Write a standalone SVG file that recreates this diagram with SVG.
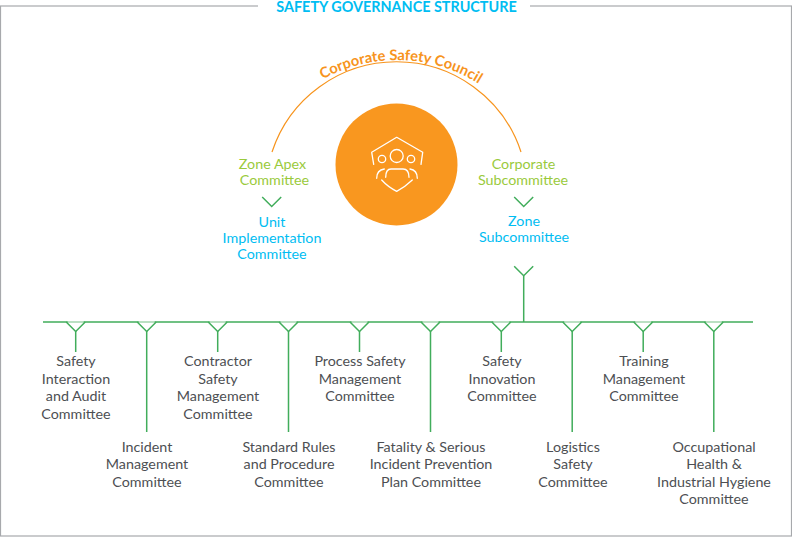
<svg xmlns="http://www.w3.org/2000/svg" width="792" height="537" viewBox="0 0 792 537">
<style>
text{font-family:"Lato","Liberation Sans",sans-serif;font-size:14.3px;text-anchor:middle}
.d{fill:#4d4f53}.g{fill:#9aca3c}.b{fill:#00bdf2}
.l{fill:none;stroke:#41ad5b;stroke-width:1.5}
.p{fill:none;stroke:#d3ead7;stroke-width:1.5}
.w{fill:none;stroke:#fff;stroke-width:1.3;stroke-linecap:round;stroke-linejoin:round}
</style>
<defs>
<path id="arc" d="M257 151.300A153 153 0 0 1 537 151.300"/>
<path id="v" d="M-9.500 0L0 9.500L9.500 0"/>
<g id="y"><path class="p" d="M-8 0H8"/><path class="l" d="M-9.500 0L0 9.500L9.500 0"/></g>
</defs>
<rect id="frame" x="0.500" y="6" width="791" height="530" fill="none" stroke="#a7a9ac" stroke-width="1.2"/>
<g id="title"><rect x="258" y="0" width="272" height="14" fill="#fff"/><text x="396.500" y="12" font-weight="700" style="font-size:14.400px" class="b">SAFETY GOVERNANCE STRUCTURE</text></g>
<g id="council"><path d="M272 152A131 131 0 0 1 521 152" fill="none" stroke="#f7941d" stroke-width="1.2"/>
<text style="font-size:14.700px" fill="#f7941d" font-weight="700"><textPath href="#arc" startOffset="51.200%">Corporate Safety Council</textPath></text></g>
<g id="hub"><circle cx="396.500" cy="164.500" r="61" fill="#f9971f"/>
<path class="w" d="M373.700 164.300L371.700 152.300L396.700 137.300L422.700 152.300L421 164.300"/>
<circle class="w" cx="396.700" cy="156" r="6.500"/><circle class="w" cx="382" cy="159" r="3.700"/><circle class="w" cx="411" cy="159" r="3.700"/>
<path class="w" d="M385.700 177.300Q385.700 169 391 169H403Q409 169 409 177.300M376.700 178.300Q376.700 170 384.300 169M417.300 178.300Q417.300 170 410 169M381.700 180Q388 187 396.700 191.300Q405 187 412.300 180"/></g>
<g id="zone-apex"><text class="g" x="272.500" y="169">Zone Apex</text><text class="g" x="274.500" y="185">Committee</text></g>
<g id="corporate-sub"><text class="g" x="523.500" y="169">Corporate</text><text class="g" x="523" y="185">Subcommittee</text></g>
<g id="unit"><text class="b" x="272" y="227">Unit</text><text class="b" x="272" y="243">Implementation</text><text class="b" x="272" y="259">Committee</text></g>
<g id="zone-sub"><text class="b" x="524" y="226">Zone</text><text class="b" x="524" y="242">Subcommittee</text></g>
<g id="connectors">
<path class="l" d="M43 322H753M523.700 276V322"/>
<use href="#v" class="l" x="271.700" y="197"/><use href="#v" class="l" x="523.700" y="197"/><use href="#v" class="l" x="523.700" y="266.200"/>
<use href="#y" x="75.700" y="322"/><use href="#y" x="146.700" y="322"/><use href="#y" x="217.700" y="322"/><use href="#y" x="288.500" y="322"/><use href="#y" x="359.500" y="322"/><use href="#y" x="430.500" y="322"/><use href="#y" x="501.300" y="322"/><use href="#y" x="572.200" y="322"/><use href="#y" x="643.200" y="322"/><use href="#y" x="713.800" y="322"/>
<path class="l" d="M75.700 331V352M146.700 331V432M217.700 331V352M288.500 331V432M359.500 331V352M430.500 331V432M501.300 331V352M572.200 331V432M643.200 331V352M713.800 331V432"/>
</g>
<g id="n1"><text class="d" x="76" y="366">Safety</text><text class="d" x="76" y="384">Interaction</text><text class="d" x="76" y="401">and Audit</text><text class="d" x="76" y="419">Committee</text></g>
<g id="n2"><text class="d" x="147" y="452">Incident</text><text class="d" x="147" y="469">Management</text><text class="d" x="147" y="487">Committee</text></g>
<g id="n3"><text class="d" x="218" y="366">Contractor</text><text class="d" x="218" y="384">Safety</text><text class="d" x="218" y="401">Management</text><text class="d" x="218" y="419">Committee</text></g>
<g id="n4"><text class="d" x="289" y="452">Standard Rules</text><text class="d" x="289" y="469">and Procedure</text><text class="d" x="289" y="487">Committee</text></g>
<g id="n5"><text class="d" x="360" y="366">Process Safety</text><text class="d" x="360" y="384">Management</text><text class="d" x="360" y="401">Committee</text></g>
<g id="n6"><text class="d" x="431" y="452">Fatality &amp; Serious</text><text class="d" x="431" y="469">Incident Prevention</text><text class="d" x="431" y="487">Plan Committee</text></g>
<g id="n7"><text class="d" x="502" y="366">Safety</text><text class="d" x="502" y="384">Innovation</text><text class="d" x="502" y="401">Committee</text></g>
<g id="n8"><text class="d" x="573" y="452">Logistics</text><text class="d" x="573" y="469">Safety</text><text class="d" x="573" y="487">Committee</text></g>
<g id="n9"><text class="d" x="644" y="366">Training</text><text class="d" x="644" y="384">Management</text><text class="d" x="644" y="401">Committee</text></g>
<g id="n10"><text class="d" x="714" y="452">Occupational</text><text class="d" x="714" y="469">Health &amp;</text><text class="d" x="714" y="487">Industrial Hygiene</text><text class="d" x="714" y="504">Committee</text></g>
</svg>
